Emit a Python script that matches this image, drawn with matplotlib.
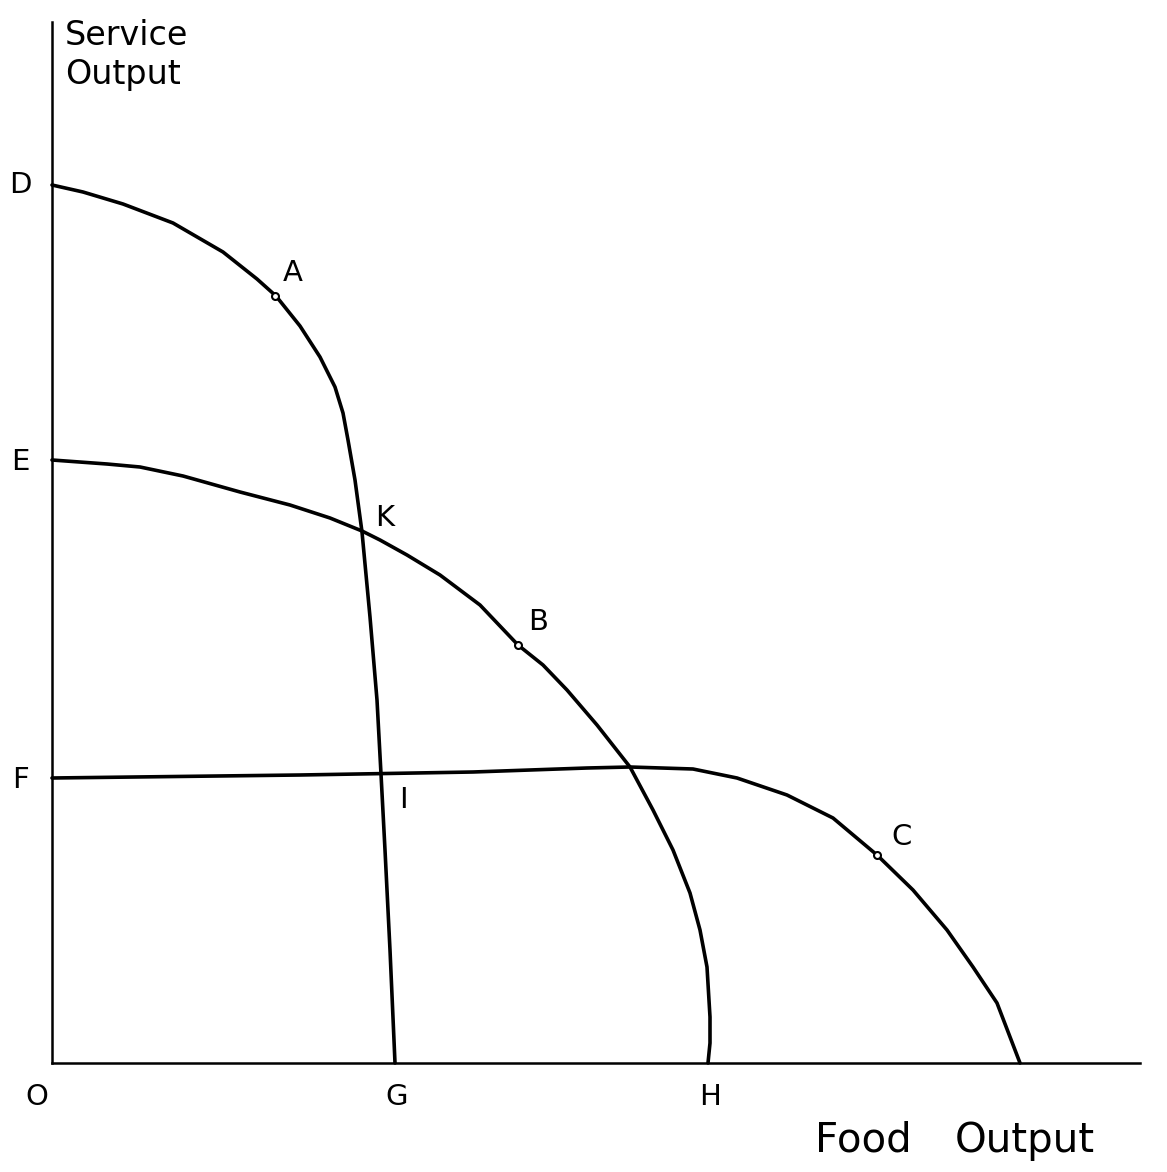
import numpy as np
import matplotlib
matplotlib.use("Agg")
import matplotlib.pyplot as plt

# Production possibility frontiers
# units: food output (x) and service output (y), origin at O

# curve D-A-K-I-G
dg_x = [0, 3.1, 7.1, 12.1, 17.1, 20.5, 22.4, 24.8, 26.8, 28.3, 29.1, 29.6, 30.3, 31.0, 31.8, 32.5, 32.9, 33.3, 33.8, 34.3]
dg_y = [87.8, 87.1, 85.9, 84.0, 81.1, 78.4, 76.7, 73.7, 70.6, 67.6, 65.0, 62.3, 58.3, 53.1, 44.6, 36.3, 28.9, 21.3, 11.3, 0]

# curve E-K-B-H
eh_x = [0, 5.5, 8.8, 13.1, 18.8, 23.8, 27.8, 31.0, 32.8, 35.5, 38.8, 42.8, 46.6, 49.1, 51.5, 54.5,
        57.8, 60.1, 62.1, 63.8, 64.8, 65.5, 65.8, 65.8, 65.6]
eh_y = [60.3, 59.9, 59.6, 58.7, 57.1, 55.8, 54.5, 53.2, 52.3, 50.8, 48.8, 45.8, 41.8, 39.8, 37.3, 33.8,
        29.6, 25.3, 21.3, 17.0, 13.3, 9.6, 4.6, 2.0, 0]

# curve F-I-C
fc_x = [0, 24.8, 42.1, 53.5, 57.8, 64.1, 68.5, 73.5, 78.1, 82.5, 86.1, 89.5, 92.1, 94.5, 96.8]
fc_y = [28.5, 28.8, 29.1, 29.5, 29.6, 29.4, 28.5, 26.8, 24.5, 20.8, 17.3, 13.3, 9.6, 6.0, 0]

# marked points on the frontiers
pt_names = ["A", "B", "C"]
pt_x = [22.3, 46.6, 82.5]
pt_y = [76.7, 41.8, 20.8]

# letters next to the curves
lbl_text = ["A", "K", "B", "I", "C"]
lbl_x = [24.1, 33.3, 48.6, 35.1, 85.0]
lbl_y = [79.0, 54.5, 44.1, 26.3, 22.6]

# letters on the axes
yax_text = ["D", "E", "F"]
yax_y = [87.8, 60.1, 28.3]
xax_text = ["O", "G", "H"]
xax_x = [-1.5, 34.5, 65.8]

x_end = 108.8
y_end = 104.1

fig = plt.figure(figsize=(11.67, 11.72), dpi=100)
ax = fig.add_axes([0, 0, 1, 1])
ax.set_xlim(-5.2, 111.5)
ax.set_ylim(-10.9, 106.3)
ax.axis('off')

# axes drawn as plain lines
ax.plot([0, 0], [0, y_end], color='black', lw=1.8)
ax.plot([0, x_end], [0, 0], color='black', lw=1.8)

for xs, ys in [(dg_x, dg_y), (eh_x, eh_y), (fc_x, fc_y)]:
    ax.plot(xs, ys, color='black', lw=2.6, solid_capstyle='round', solid_joinstyle='round')

ax.plot(pt_x, pt_y, 'o', ms=5, mfc='white', mec='black', mew=1.5)

for t, x, y in zip(lbl_text, lbl_x, lbl_y):
    ax.text(x, y, t, fontsize=21, ha='center', va='center')

for t, y in zip(yax_text, yax_y):
    ax.text(-3.2, y, t, fontsize=21, ha='center', va='center')

for t, x in zip(xax_text, xax_x):
    ax.text(x, -3.4, t, fontsize=21, ha='center', va='center')

# axis titles, hand lettered in the original
ax.text(1.3, 101.8, "Service", fontsize=24, ha='left', va='baseline')
ax.text(1.3, 97.9, "Output", fontsize=24, ha='left', va='baseline')
ax.text(76.3, -8.9, "Food", fontsize=29, ha='left', va='baseline')
ax.text(90.3, -8.9, "Output", fontsize=29, ha='left', va='baseline')

fig.patch.set_facecolor('white')
fig.savefig("out.png", dpi=100, facecolor='white')
